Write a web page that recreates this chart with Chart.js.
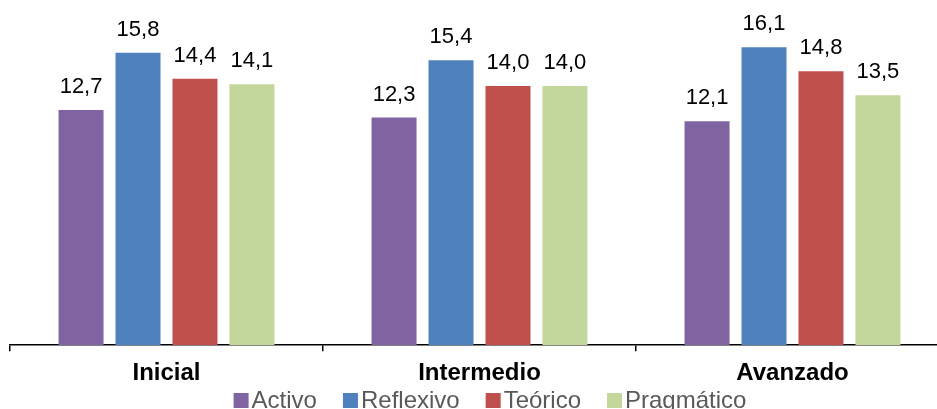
<!DOCTYPE html>
<html>
<head>
<meta charset="utf-8">
<script src="https://cdn.jsdelivr.net/npm/chart.js@4"></script>
<style>
  html, body { margin: 0; padding: 0; background: #fff; overflow: hidden; }
  #wrap { width: 950px; height: 409px; }
</style>
</head>
<body>
<div id="wrap"><canvas id="chart" width="950" height="409"></canvas></div>
<script>
const categories = ["Inicial", "Intermedio", "Avanzado"];
const seriesNames = ["Activo", "Reflexivo", "Teórico", "Pragmático"];
const activo = [12.7, 12.3, 12.1];
const reflexivo = [15.8, 15.4, 16.1];
const teorico = [14.4, 14.0, 14.8];
const pragmatico = [14.1, 14.0, 13.5];
const colors = ["#8064A2", "#4F81BD", "#C0504D", "#C3D69B"];

const FONT = "'Liberation Sans', Arial, sans-serif";
Chart.defaults.font.family = FONT;

// value labels above each bar
const valueLabels = {
    id: 'valueLabels',
    afterDatasetsDraw(chart) {
        const ctx = chart.ctx;
        ctx.save();
        ctx.font = "22px " + FONT;
        ctx.fillStyle = "#000";
        ctx.textAlign = "center";
        ctx.textBaseline = "alphabetic";
        chart.data.datasets.forEach((ds, i) => {
            chart.getDatasetMeta(i).data.forEach((bar, j) => {
                const txt = ds.data[j].toFixed(1).replace('.', ',');
                ctx.fillText(txt, bar.x, bar.y - 17);
            });
        });
        ctx.restore();
    }
};

// legend drawn by hand so spacing matches
const bottomLegend = {
    id: 'bottomLegend',
    afterDraw(chart) {
        const ctx = chart.ctx;
        ctx.save();
        ctx.font = "24px " + FONT;
        ctx.textBaseline = "alphabetic";
        const box = 15, gap = 3, spacing = 26;
        const items = chart.data.datasets.map(ds => ({
            label: ds.label, color: ds.backgroundColor, w: ctx.measureText(ds.label).width
        }));
        const total = items.reduce((s, it) => s + box + gap + it.w, 0) + spacing * (items.length - 1);
        let x = 490 - total / 2;
        items.forEach(it => {
            ctx.fillStyle = it.color;
            ctx.fillRect(x, 393, box, box);
            ctx.fillStyle = "#595959";
            ctx.textAlign = "left";
            ctx.fillText(it.label, x + box + gap, 408);
            x += box + gap + it.w + spacing;
        });
        ctx.restore();
    }
};

const seriesData = [activo, reflexivo, teorico, pragmatico];

new Chart(document.getElementById('chart').getContext('2d'), {
    type: 'bar',
    data: {
        labels: categories,
        datasets: seriesNames.map((name, i) => ({
            label: name,
            data: seriesData[i],
            backgroundColor: colors[i],
            borderWidth: 0,
            categoryPercentage: 0.728,
            barPercentage: 0.79
        }))
    },
    options: {
        responsive: false,
        animation: false,
        layout: { padding: { left: 10, right: 1, top: 12, bottom: 13 } },
        plugins: {
            legend: { display: false },
            tooltip: { enabled: false }
        },
        scales: {
            y: { display: false, min: 0, max: 18 },
            x: {
                border: { display: true, color: '#000', width: 1.5 },
                grid: {
                    offset: true,
                    drawOnChartArea: false,
                    drawTicks: true,
                    tickLength: 6,
                    color: '#000',
                    lineWidth: 1.5
                },
                ticks: {
                    color: '#000',
                    padding: 8,
                    font: { size: 24, weight: 'bold' }
                }
            }
        }
    },
    plugins: [valueLabels, bottomLegend]
});
</script>
</body>
</html>
